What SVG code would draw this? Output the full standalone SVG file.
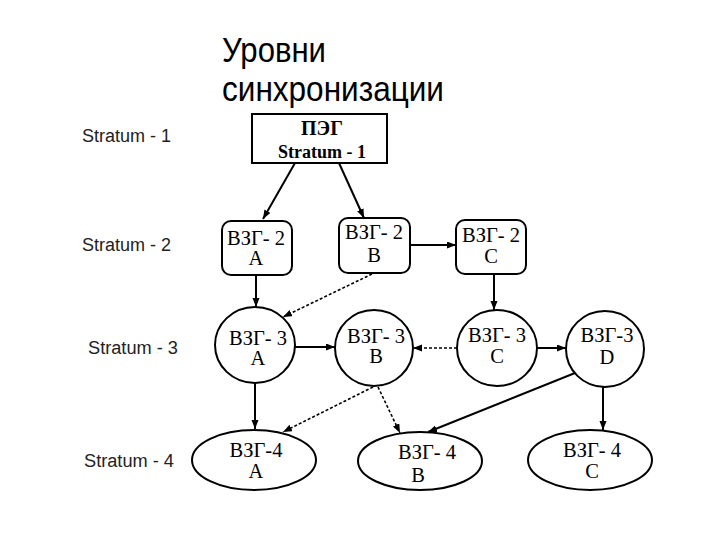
<svg xmlns="http://www.w3.org/2000/svg" width="720" height="540" viewBox="0 0 720 540">
<defs>
<marker id="ah" markerUnits="userSpaceOnUse" markerWidth="10" markerHeight="8" refX="9" refY="3.5" orient="auto">
<path d="M0,0 L9,3.5 L0,7 z" fill="#000"/>
</marker>
</defs>
<style>
.title{font-family:"Liberation Sans",Arial,sans-serif;font-size:35px;fill:#000}
.lvl{font-family:"Liberation Sans",Arial,sans-serif;font-size:18px;fill:#222}
.nt{font-family:"Liberation Serif","Times New Roman",serif;font-size:20.5px;fill:#000;text-anchor:middle}
.bt{font-family:"Liberation Serif","Times New Roman",serif;font-size:18px;font-weight:bold;fill:#000;text-anchor:middle}
.shape{fill:#fff;stroke:#000;stroke-width:2}
.solid{stroke:#000;stroke-width:2;fill:none;marker-end:url(#ah)}
.dash{stroke:#000;stroke-width:1.6;stroke-dasharray:3 2;fill:none;marker-end:url(#ah)}
</style>
<rect width="720" height="540" fill="#fff"/>
<g id="title">
<text class="title" x="222" y="62" textLength="104" lengthAdjust="spacingAndGlyphs">Уровни</text>
<text class="title" x="222" y="101" textLength="222" lengthAdjust="spacingAndGlyphs">синхронизации</text>
</g>
<g id="levels">
<text class="lvl" x="82" y="142" textLength="89" lengthAdjust="spacingAndGlyphs">Stratum - 1</text>
<text class="lvl" x="82" y="251" textLength="89" lengthAdjust="spacingAndGlyphs">Stratum - 2</text>
<text class="lvl" x="88" y="354" textLength="90" lengthAdjust="spacingAndGlyphs">Stratum - 3</text>
<text class="lvl" x="84" y="467" textLength="90" lengthAdjust="spacingAndGlyphs">Stratum - 4</text>
</g>
<g id="connectors">
<line class="solid" x1="295" y1="163" x2="263" y2="219"/>
<line class="solid" x1="339" y1="163" x2="364" y2="218"/>
<line class="solid" x1="410" y1="245" x2="456" y2="245"/>
<line class="solid" x1="256" y1="275" x2="256" y2="307"/>
<line class="solid" x1="494" y1="274" x2="494" y2="310"/>
<line class="dash" x1="372" y1="274" x2="283" y2="317"/>
<line class="solid" x1="295" y1="347" x2="335" y2="347"/>
<line class="dash" x1="457" y1="348" x2="413" y2="348"/>
<line class="solid" x1="537" y1="348" x2="566" y2="348"/>
<line class="solid" x1="255" y1="383" x2="255" y2="429"/>
<line class="dash" x1="373" y1="387" x2="283" y2="432"/>
<line class="dash" x1="378" y1="387" x2="400" y2="433"/>
<line class="solid" x1="575" y1="373" x2="428" y2="432"/>
<line class="solid" x1="603" y1="387" x2="603" y2="430"/>
</g>
<g id="peg">
<rect class="shape" x="252" y="114" width="135" height="49"/>
<text class="bt" x="322" y="135" style="font-size:20px">ПЭГ</text>
<text class="bt" x="322" y="158">Stratum - 1</text>
</g>
<g id="vzg2a">
<rect class="shape" x="222" y="221" width="70" height="54" rx="9"/>
<text class="nt" x="256" y="245">ВЗГ- 2</text>
<text class="nt" x="256" y="265">A</text>
</g>
<g id="vzg2b">
<rect class="shape" x="339" y="218" width="71" height="55" rx="9"/>
<text class="nt" x="374" y="239">ВЗГ- 2</text>
<text class="nt" x="374" y="262">B</text>
</g>
<g id="vzg2c">
<rect class="shape" x="456" y="220" width="70" height="54" rx="9"/>
<text class="nt" x="491" y="242">ВЗГ- 2</text>
<text class="nt" x="491" y="263">C</text>
</g>
<g id="vzg3a">
<ellipse class="shape" cx="255" cy="345" rx="40" ry="38"/>
<text class="nt" x="258" y="345">ВЗГ- 3</text>
<text class="nt" x="258" y="365">A</text>
</g>
<g id="vzg3b">
<ellipse class="shape" cx="374" cy="348" rx="39" ry="38"/>
<text class="nt" x="376" y="343">ВЗГ- 3</text>
<text class="nt" x="376" y="363">B</text>
</g>
<g id="vzg3c">
<ellipse class="shape" cx="497" cy="348" rx="40" ry="38"/>
<text class="nt" x="497" y="342">ВЗГ- 3</text>
<text class="nt" x="497" y="363">C</text>
</g>
<g id="vzg3d">
<ellipse class="shape" cx="605" cy="349" rx="39" ry="38"/>
<text class="nt" x="607" y="342">ВЗГ-3</text>
<text class="nt" x="607" y="364">D</text>
</g>
<g id="vzg4a">
<ellipse class="shape" cx="254" cy="460" rx="62" ry="30"/>
<text class="nt" x="256" y="457">ВЗГ-4</text>
<text class="nt" x="256" y="478">A</text>
</g>
<g id="vzg4b">
<ellipse class="shape" cx="420" cy="461" rx="62" ry="29"/>
<text class="nt" x="427" y="459">ВЗГ- 4</text>
<text class="nt" x="418" y="482">B</text>
</g>
<g id="vzg4c">
<ellipse class="shape" cx="590" cy="460" rx="62" ry="30"/>
<text class="nt" x="592" y="457">ВЗГ- 4</text>
<text class="nt" x="592" y="478">C</text>
</g>
</svg>
